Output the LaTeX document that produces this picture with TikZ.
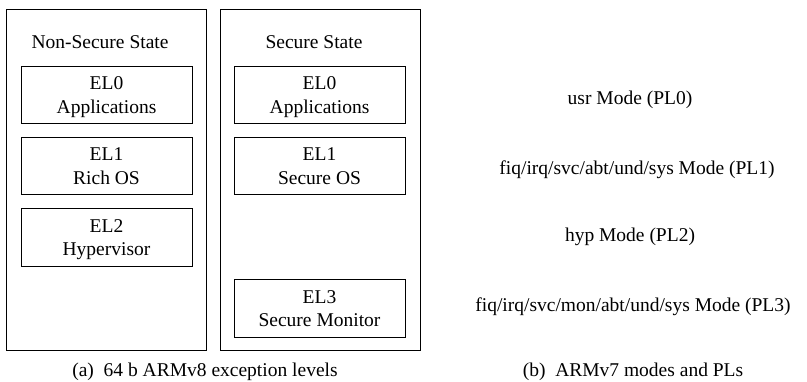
\documentclass[tikz,border=0pt]{standalone}
\usepackage{fontspec}
\setmainfont{Liberation Serif}
\usepackage{tikz}
\usetikzlibrary{positioning}

\begin{document}
\begin{tikzpicture}[
    x=1pt, y=-1pt,
    every node/.style={font=\fontsize{19.5}{23.5}\selectfont, inner sep=0pt},
    state/.style={draw, line width=1pt, minimum width=200pt, minimum height=341pt},
    level/.style={draw, line width=1pt, minimum width=171pt, minimum height=57.5pt, align=center,
        text depth=-4pt},
    mode/.style={align=center}
]
\useasboundingbox (0,0) rectangle (807,382);
% (a) ARMv8 exception levels
\node[state] (ns) at (106,180.5) {};
\node[state] (s) at (320,180.5) {};
\node (nstitle) at (100,42) {Non-Secure State};
\node (stitle) at (314,42) {Secure State};
% Non-secure side
\node[level] (nsel0) at (106.5,95) {EL0\\Applications};
\node[level] (nsel1) at (106.5,166) {EL1\\Rich OS};
\node[level] (nsel2) at (106.5,237.5) {EL2\\Hypervisor};
% Secure side
\node[level] (sel0) at (319.5,95) {EL0\\Applications};
\node[level] (sel1) at (319.5,166) {EL1\\Secure OS};
\node[level] (sel3) at (319.5,308.5) {EL3\\Secure Monitor};
\node (capa) at (205,372) {(a)\enspace 64 b ARMv8 exception levels};
% (b) ARMv7 modes and PLs
\node[mode] (pl0) at (630,100) {usr Mode (PL0)};
\node[mode] (pl1) at (637,170) {fiq/irq/svc/abt/und/sys Mode (PL1)};
\node[mode] (pl2) at (630,237) {hyp Mode (PL2)};
\node[mode] (pl3) at (633,307) {fiq/irq/svc/mon/abt/und/sys Mode (PL3)};
\node (capb) at (633,372) {(b)\enspace ARMv7 modes and PLs};
\end{tikzpicture}
\end{document}
